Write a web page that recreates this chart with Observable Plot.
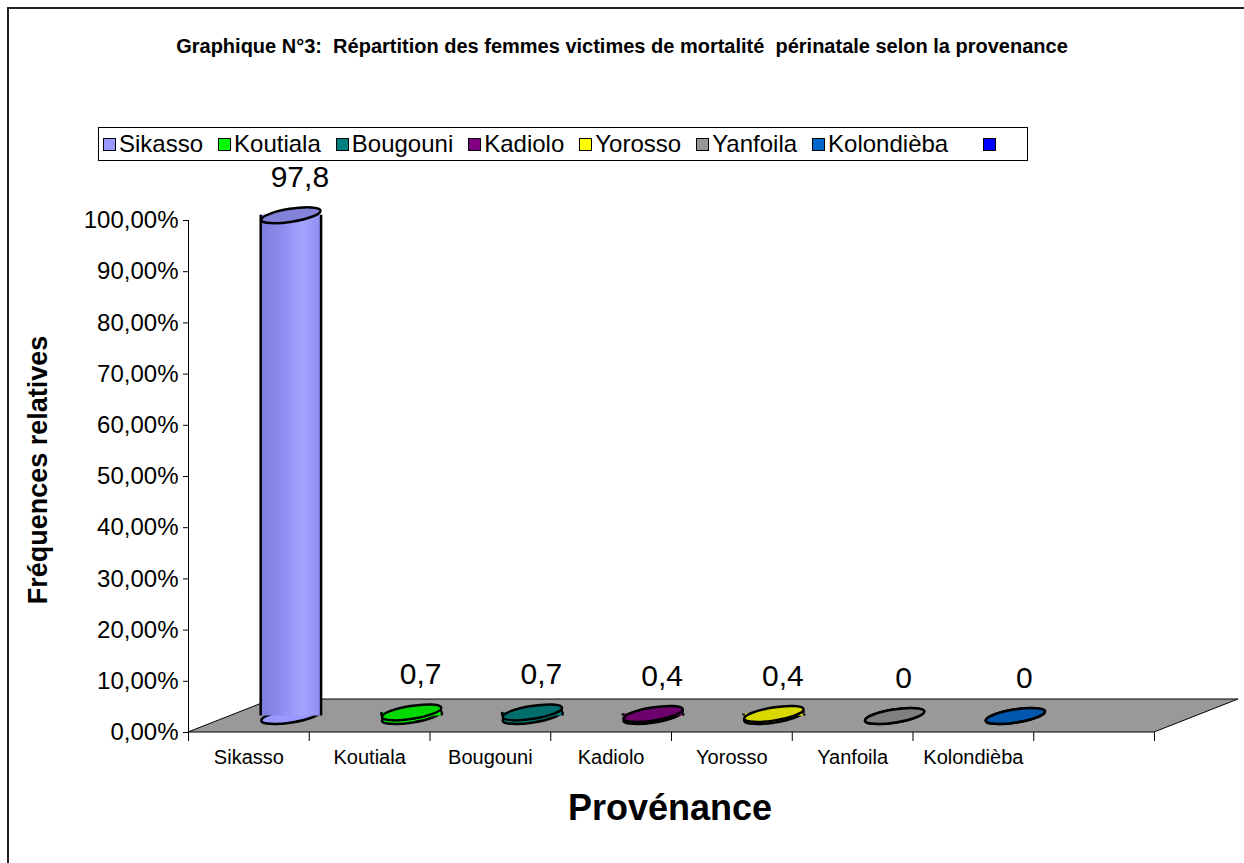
<!DOCTYPE html>
<html>
<head>
<meta charset="utf-8">
<script src="https://cdn.jsdelivr.net/npm/d3@7"></script>
<script src="https://cdn.jsdelivr.net/npm/@observablehq/plot@0.6"></script>
<style>
  html, body { margin: 0; padding: 0; background: #fff; }
  body { width: 1244px; height: 863px; overflow: hidden; position: relative; font-family: "Liberation Sans", Arial, sans-serif; }
  #frame { position: absolute; left: 7px; top: 7px; width: 1260px; height: 900px; border: 2px solid #222; box-sizing: border-box; }
  #chart { position: absolute; left: 0; top: 0; }
  #title { position: absolute; left: 0; width: 1244px; top: 35px; text-align: center; font-weight: bold; font-size: 20px; color: #000; white-space: pre; }
  #legend { position: absolute; left: 98px; top: 127px; width: 930px; height: 34px; border: 1px solid #000; box-sizing: border-box; display: flex; align-items: center; padding-left: 4px; font-size: 24px; background: #fff; }
  .item { display: flex; align-items: center; margin-right: 15px; white-space: nowrap; }
  .item.last { margin-left: 20px; }
  .sw { width: 11px; height: 11px; border: 1.5px solid #000; margin-right: 3px; }
  #ytitle { position: absolute; left: 38px; top: 470px; transform: translate(-50%, -50%) rotate(-90deg); font-weight: bold; font-size: 27px; white-space: nowrap; }
  #xtitle { position: absolute; left: 670px; top: 808px; transform: translate(-50%, -50%); font-weight: bold; font-size: 36px; white-space: nowrap; }
</style>
</head>
<body>
<div id="chart"></div>
<div id="frame"></div>
<div id="title"></div>
<div id="legend"></div>
<div id="ytitle">Fréquences relatives</div>
<div id="xtitle">Provénance</div>
<script>
// ---- data ----
const categories = ["Sikasso", "Koutiala", "Bougouni", "Kadiolo", "Yorosso", "Yanfoila", "Kolondièba"];
const values = [97.8, 0.7, 0.7, 0.4, 0.4, 0, 0];
const valueLabels = ["97,8", "0,7", "0,7", "0,4", "0,4", "0", "0"];
const legendLabels = ["Sikasso", "Koutiala", "Bougouni", "Kadiolo", "Yorosso", "Yanfoila", "Kolondièba", ""];
const yTicks = [0, 10, 20, 30, 40, 50, 60, 70, 80, 90, 100];
const titleText = "Graphique N°3:  Répartition des femmes victimes de mortalité  périnatale selon la provenance";

// ---- styles ----
const palette = ["#9999FF", "#00FF00", "#008080", "#800080", "#FFFF00", "#969696", "#0066CC", "#0000FF"];
const slots = 8;           // category slots on the floor (last one empty)
const DX = 84, DY = -33;   // 3D depth offset in pixels
const HALF = 0.25;         // cylinder half width (in slot units)

document.getElementById("title").textContent = titleText;
const legend = document.getElementById("legend");
legendLabels.forEach((l, i) => {
  const it = document.createElement("div");
  it.className = "item" + (l === "" ? " last" : "");
  const sw = document.createElement("div");
  sw.className = "sw";
  sw.style.background = palette[i];
  it.appendChild(sw);
  const t = document.createElement("span");
  t.textContent = l;
  it.appendChild(t);
  legend.appendChild(it);
});

const rows = categories.map((c, i) => ({
  cat: c, pos: i + 0.5, value: values[i], label: valueLabels[i],
  color: palette[i], top: d3.color(palette[i]).darker(0.45).formatHex()
}));

// ellipse symbol for cylinder caps
const ellipse = {
  draw(ctx) {
    const rx = 30, ry = 6.5, k = 0.5523;
    ctx.moveTo(-rx, 0);
    ctx.bezierCurveTo(-rx, -ry * k, -rx * k, -ry, 0, -ry);
    ctx.bezierCurveTo(rx * k, -ry, rx, -ry * k, rx, 0);
    ctx.bezierCurveTo(rx, ry * k, rx * k, ry, 0, ry);
    ctx.bezierCurveTo(-rx * k, ry, -rx, ry * k, -rx, 0);
    ctx.closePath();
  }
};

function floorMark() {
  const scales = Array.from(arguments).find(a => a && typeof a.x === "function" && typeof a.y === "function");
  const x0 = scales.x(0), x1 = scales.x(slots), y0 = scales.y(0);
  const p = document.createElementNS("http://www.w3.org/2000/svg", "path");
  p.setAttribute("d", `M${x0},${y0}L${x1},${y0}L${x1 + DX},${y0 + DY}L${x0 + DX},${y0 + DY}Z`);
  p.setAttribute("fill", "#999999");
  p.setAttribute("stroke", "#000");
  p.setAttribute("stroke-width", "1");
  return p;
}

const plot = Plot.plot({
  width: 1244,
  height: 863,
  marginTop: 220,
  marginBottom: 131,
  marginLeft: 188,
  marginRight: 90,
  style: { fontFamily: "'Liberation Sans', Arial, sans-serif", color: "#000", background: "transparent" },
  x: { domain: [0, slots], axis: null },
  y: { domain: [0, 100], axis: null },
  marks: [
    floorMark,
    // y axis
    Plot.ruleX([0], { y1: 0, y2: 100, stroke: "#000", strokeWidth: 1 }),
    Plot.axisY({ ticks: yTicks, tickFormat: d => d.toFixed(2).replace(".", ",") + "%", tickSize: 5, tickPadding: 5, fontSize: 24, label: null, stroke: "#000" }),
    // x axis ticks at slot boundaries
    Plot.axisX({ ticks: d3.range(slots + 1), tickFormat: () => "", tickSize: 9, label: null, stroke: "#000" }),
    Plot.axisX({ ticks: rows.map(r => r.pos), tickFormat: p => categories[Math.floor(p)], tickSize: 0, tickPadding: 17, fontSize: 20, label: null }),
    // cylinders
    Plot.dot(rows, { x: "pos", y: 0, symbol: ellipse, fill: d => d.color, stroke: "#000", strokeWidth: 2.5, rotate: -9, dx: DX / 2, dy: DY / 2 }),
    Plot.rect(rows, { x1: d => d.pos - HALF, x2: d => d.pos + HALF, y1: 0, y2: "value", fill: d => d.pos < 1 ? "url(#cylgrad)" : d.color, dx: DX / 2, dy: DY / 2 }),
    Plot.ruleX(rows, { x: d => d.pos - HALF, y1: 0, y2: "value", stroke: "#000", strokeWidth: 2.5, dx: DX / 2, dy: DY / 2 }),
    Plot.ruleX(rows, { x: d => d.pos + HALF, y1: 0, y2: "value", stroke: "#000", strokeWidth: 2.5, dx: DX / 2, dy: DY / 2 }),
    Plot.dot(rows, { x: "pos", y: "value", symbol: ellipse, fill: d => d.top, stroke: "#000", strokeWidth: 2.5, rotate: -9, dx: DX / 2, dy: DY / 2 }),
    // value labels
    Plot.text(rows, { x: "pos", y: "value", text: "label", fontSize: 30, dx: DX / 2 + 9, dy: DY / 2 - 38, fill: "#000" })
  ]
});

// gradient for the shaded cylinder body
const svg = d3.select(plot);
const defs = svg.insert("defs", ":first-child");
const g = defs.append("linearGradient").attr("id", "cylgrad").attr("x1", "0").attr("x2", "1").attr("y1", "0").attr("y2", "0");
[["0%", "#7c7cd8"], ["40%", "#9090f4"], ["70%", "#a4a4ff"], ["100%", "#8e8ef0"]].forEach(([o, c]) => g.append("stop").attr("offset", o).attr("stop-color", c));

document.getElementById("chart").appendChild(plot);
</script>
</body>
</html>
